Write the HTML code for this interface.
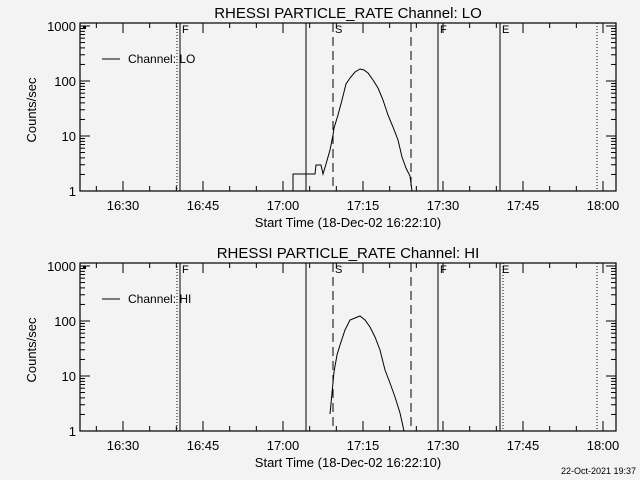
<!DOCTYPE html>
<html><head><meta charset="utf-8"><style>
body{margin:0;background:#f3f3f3;}
svg{display:block;font-family:"Liberation Sans","DejaVu Sans",sans-serif;}
text{fill:#000;}
</style></head><body>
<svg id="s" width="640" height="480" xmlns="http://www.w3.org/2000/svg"></svg>
<script>
const s=document.getElementById('s');let h='';
const L=80,R=616;
function X(min){return 123+(min-30)*80/15;}
const lo=[[293,191],[293,174],[315,174],[316,165],[321,165],[323,174],[326,164],[330,150],[333,135],[334,128],[338,115],[342,100],[346,84],[350,78],[355,72],[360,69],[364,70],[368,73],[373,80],[378,88],[383,100],[388,115],[393,127],[398,140],[402,157],[406,168],[410,176],[412,191]];
const hi=[[330,414],[334,372],[337,355],[340,345],[345,330],[350,320],[355,318],[360,316],[365,320],[370,327],[375,337],[380,350],[385,370],[390,383],[395,397],[400,413],[404,431]];
function panel(off,ch,data,first){
 const T=23+off,B=191+off;
 h+=`<text x="348" y="${18+off}" font-size="15" text-anchor="middle">RHESSI  PARTICLE_RATE  Channel: ${ch}</text>`;
 h+=`<rect x="${L}" y="${T}" width="${R-L}" height="${B-T}" fill="none" stroke="#000" stroke-width="1.2"/>`;
 for(let d=0;d<4;d++){
  const y=B-d*55;
  h+=`<line x1="${L}" x2="${L+10}" y1="${y}" y2="${y}" stroke="#000"/><line x1="${R}" x2="${R-10}" y1="${y}" y2="${y}" stroke="#000"/>`;
  h+=`<text x="${L-4}" y="${y+5}" font-size="13" text-anchor="end">${[1,10,100,1000][d]}</text>`;
  if(d<3)for(let m=2;m<10;m++){const yy=B-(d+Math.log10(m))*55;
   h+=`<line x1="${L}" x2="${L+5}" y1="${yy}" y2="${yy}" stroke="#000"/><line x1="${R}" x2="${R-5}" y1="${yy}" y2="${yy}" stroke="#000"/>`;}
 }
 h+=`<text transform="translate(36,${(T+B)/2+3}) rotate(-90)" font-size="13" text-anchor="middle">Counts/sec</text>`;
 for(let m=25;m<=120;m+=5){const x=X(m);if(x<L||x>R)continue;const len=(m%15==0)?10:5;
  h+=`<line x1="${x}" x2="${x}" y1="${B}" y2="${B-len}" stroke="#000"/><line x1="${x}" x2="${x}" y1="${T}" y2="${T+len}" stroke="#000"/>`;
  if(m%15==0)h+=`<text x="${x}" y="${B+19}" font-size="13" text-anchor="middle">${16+Math.floor(m/60)}:${String(m%60).padStart(2,'0')}</text>`;}
 h+=`<text x="348" y="${B+36}" font-size="13" text-anchor="middle">Start Time (18-Dec-02 16:22:10)</text>`;
 const v=[[177,'1,2'],[180,''],[306,''],[333,'9,5'],[411,'9,5'],[438,''],[500,''],[503,'1,2'],[597,'1,2']];
 v.forEach(([x,d])=>{if(x==503&&first)return;h+=`<line x1="${x}" x2="${x}" y1="${T}" y2="${B}" stroke="#000" ${d?`stroke-dasharray="${d}"`:''}/>`;});
 [[182,'F'],[335,'S'],[440,'F'],[502,'E']].forEach(([x,t])=>h+=`<text x="${x}" y="${T+10}" font-size="11">${t}</text>`);
 h+=`<rect x="83" y="${T+3}" width="3" height="3" fill="#000"/>`;
 h+=`<line x1="102" x2="120" y1="${T+36}" y2="${T+36}" stroke="#000"/><text x="128" y="${T+40}" font-size="12">Channel: ${ch}</text>`;
 h+=`<polyline fill="none" stroke="#000" stroke-width="1" points="${data.map(p=>p.join(',')).join(' ')}"/>`;
}
panel(0,'LO',lo,true);
panel(240,'HI',hi,false);
h+=`<text x="636" y="474" font-size="9" text-anchor="end">22-Oct-2021 19:37</text>`;
s.innerHTML=h;
</script>
</body></html>
